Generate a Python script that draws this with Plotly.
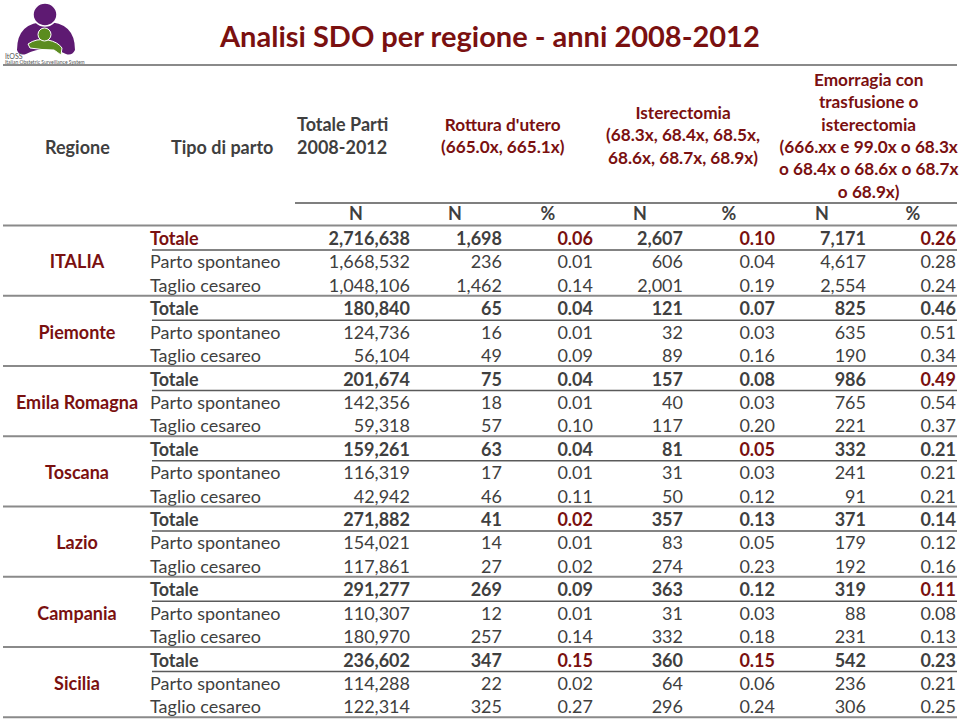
import plotly.graph_objects as go

# ---------------- data ----------------
regions = ["ITALIA", "Piemonte", "Emila Romagna", "Toscana", "Lazio", "Campania", "Sicilia"]
tipi = ["Totale", "Parto spontaneo", "Taglio cesareo"]

totale_parti = [2716638, 1668532, 1048106, 180840, 124736, 56104, 201674, 142356, 59318,
                159261, 116319, 42942, 271882, 154021, 117861, 291277, 110307, 180970,
                236602, 114288, 122314]
rottura_n = [1698, 236, 1462, 65, 16, 49, 75, 18, 57, 63, 17, 46, 41, 14, 27, 269, 12, 257, 347, 22, 325]
rottura_pct = [0.06, 0.01, 0.14, 0.04, 0.01, 0.09, 0.04, 0.01, 0.10, 0.04, 0.01, 0.11,
               0.02, 0.01, 0.02, 0.09, 0.01, 0.14, 0.15, 0.02, 0.27]
ister_n = [2607, 606, 2001, 121, 32, 89, 157, 40, 117, 81, 31, 50, 357, 83, 274, 363, 31, 332, 360, 64, 296]
ister_pct = [0.10, 0.04, 0.19, 0.07, 0.03, 0.16, 0.08, 0.03, 0.20, 0.05, 0.03, 0.12,
             0.13, 0.05, 0.23, 0.12, 0.03, 0.18, 0.15, 0.06, 0.24]
emo_n = [7171, 4617, 2554, 825, 635, 190, 986, 765, 221, 332, 241, 91, 371, 179, 192, 319, 88, 231, 542, 236, 306]
emo_pct = [0.26, 0.28, 0.24, 0.46, 0.51, 0.34, 0.49, 0.54, 0.37, 0.21, 0.21, 0.21,
           0.14, 0.12, 0.16, 0.11, 0.08, 0.13, 0.23, 0.21, 0.25]

# highlighted (red) cells: column name -> row indices
highlights = {
    "rottura_pct": [0, 12, 18],
    "ister_pct": [0, 9, 18],
    "emo_pct": [0, 6, 15],
}

title = "Analisi SDO per regione - anni 2008-2012"
col_headers = ["N", "N", "%", "N", "%", "N", "%"]

# ---------------- style / layout ----------------
W, H = 960, 722
FONT = "Lato"
GREY = "#3f3f3f"
RED = "#7a1010"
BODY = 18
HDR = 17.2

group_top0 = 225.5
group_h = 70.25
row_h = group_h / 3
row_off = 15.0

def row_y(i):
    g, k = divmod(i, 3)
    return group_top0 + g * group_h + row_off + k * row_h

nrows = len(totale_parti)
ys = [row_y(i) for i in range(nrows)]

# column right edges for numeric columns
num_cols = [
    ("totale_parti", totale_parti, 410, "{:,}"),
    ("rottura_n", rottura_n, 502, "{:,}"),
    ("rottura_pct", rottura_pct, 593, "{:.2f}"),
    ("ister_n", ister_n, 683, "{:,}"),
    ("ister_pct", ister_pct, 775, "{:.2f}"),
    ("emo_n", emo_n, 866, "{:,}"),
    ("emo_pct", emo_pct, 956, "{:.2f}"),
]
hdr_x = [356, 455, 548, 640, 729, 822, 913]

fig = go.Figure()

# numeric cells
for name, vals, xr, fmt in num_cols:
    texts, colors = [], []
    for i, v in enumerate(vals):
        s = fmt.format(v)
        if i % 3 == 0:
            s = "<b>" + s + "</b>"
        texts.append(s)
        colors.append(RED if i in highlights.get(name, []) else GREY)
    fig.add_trace(go.Scatter(
        x=[xr] * nrows, y=ys, mode="text", text=texts,
        textposition="middle left",
        textfont=dict(family=FONT, size=BODY, color=colors),
        hoverinfo="skip", showlegend=False))

# tipo di parto labels
tipo_texts, tipo_colors = [], []
for i in range(nrows):
    k = i % 3
    s = tipi[k]
    if k == 0:
        s = "<b>" + s + "</b>"
    tipo_texts.append(s)
    tipo_colors.append(RED if i == 0 else GREY)
fig.add_trace(go.Scatter(
    x=[150] * nrows, y=ys, mode="text", text=tipo_texts,
    textposition="middle right",
    textfont=dict(family=FONT, size=BODY, color=tipo_colors),
    hoverinfo="skip", showlegend=False))

# region labels
reg_y = [row_y(g * 3 + 1) for g in range(len(regions))]
fig.add_trace(go.Scatter(
    x=[77] * len(regions), y=reg_y, mode="text",
    text=["<b>" + r + "</b>" for r in regions],
    textposition="middle center",
    textfont=dict(family=FONT, size=BODY, color=RED),
    hoverinfo="skip", showlegend=False))

# column sub headers (N / %)
fig.add_trace(go.Scatter(
    x=hdr_x, y=[215] * len(hdr_x), mode="text",
    text=["<b>" + h + "</b>" for h in col_headers],
    textposition="middle center",
    textfont=dict(family=FONT, size=BODY, color=GREY),
    hoverinfo="skip", showlegend=False))

# ---------------- header annotations ----------------
ann = []
def A(x, y, t, color=GREY, size=BODY, xanchor="center", align="center", bold=True):
    ann.append(dict(x=x, y=y, xref="x", yref="y", text=("<b>%s</b>" % t) if bold else t,
                    showarrow=False, xanchor=xanchor, yanchor="middle", align=align,
                    font=dict(family=FONT, size=size, color=color)))

A(489, 35, title, color=RED, size=29)
A(77, 147, "Regione")
A(222, 147, "Tipo di parto")
A(295, 135.5, "Totale Parti<br>2008-2012", xanchor="left", align="left")
A(503, 135.5, "Rottura d'utero<br>(665.0x, 665.1x)", color=RED, size=HDR)
A(683, 135, "Isterectomia<br>(68.3x, 68.4x, 68.5x,<br>68.6x, 68.7x, 68.9x)", color=RED, size=HDR)
A(868, 135.5, "Emorragia con<br>trasfusione o<br>isterectomia<br>(666.xx e 99.0x o 68.3x<br>o 68.4x o 68.6x o 68.7x<br>o 68.9x)", color=RED, size=HDR)
A(3, 56, "ItOSS", color="#555555", size=7, xanchor="left", bold=False)
A(3, 62, "Italian Obstetric Surveillance System", color="#555555", size=5, xanchor="left", bold=False)

# ---------------- lines ----------------
shapes = []
def L(x0, x1, y, w, c):
    shapes.append(dict(type="line", xref="x", yref="y", x0=x0, x1=x1, y0=y, y1=y,
                       line=dict(color=c, width=w)))

L(3, 957, 65, 2, "#8a8a8a")
L(295, 957, 203, 1.5, "#555555")
for g in range(len(regions) + 1):
    L(3, 957, group_top0 + g * group_h, 2.2, "#8a8a8a")
for g in range(len(regions)):
    L(152, 957, group_top0 + g * group_h + 24.5, 1.4, "#5a5a5a")

# logo (decoration)
PURPLE = "#5e1a72"
GREEN = "#5b8c1f"
shapes += [
    dict(type="path", xref="x", yref="y",
         path="M 17 50 Q 17 22 46 22 Q 75 22 75 50 Q 72 56 66 54 Q 46 44 26 54 Q 19 56 17 50 Z",
         fillcolor=PURPLE, line=dict(color=PURPLE, width=0)),
    dict(type="circle", xref="x", yref="y", x0=33, x1=57, y0=3, y1=26,
         fillcolor=PURPLE, line=dict(color="white", width=1.5)),
    dict(type="path", xref="x", yref="y",
         path="M 28 44 Q 36 38 48 40 Q 58 42 62 48 L 61 55 Q 57 52 54 50 Q 42 50 30 48 Z",
         fillcolor=GREEN, line=dict(color="white", width=1)),
    dict(type="circle", xref="x", yref="y", x0=38, x1=51, y0=28, y1=41,
         fillcolor=GREEN, line=dict(color="white", width=1)),
]

fig.update_layout(
    width=W, height=H, margin=dict(l=0, r=0, t=0, b=0),
    paper_bgcolor="white", plot_bgcolor="white",
    xaxis=dict(range=[0, W], visible=False, fixedrange=True),
    yaxis=dict(range=[H, 0], visible=False, fixedrange=True),
    annotations=ann, shapes=shapes, showlegend=False,
)

fig.write_html("out.html", config={"displayModeBar": False},
               post_script="document.body.style.margin='0';document.body.style.overflow='hidden';")
